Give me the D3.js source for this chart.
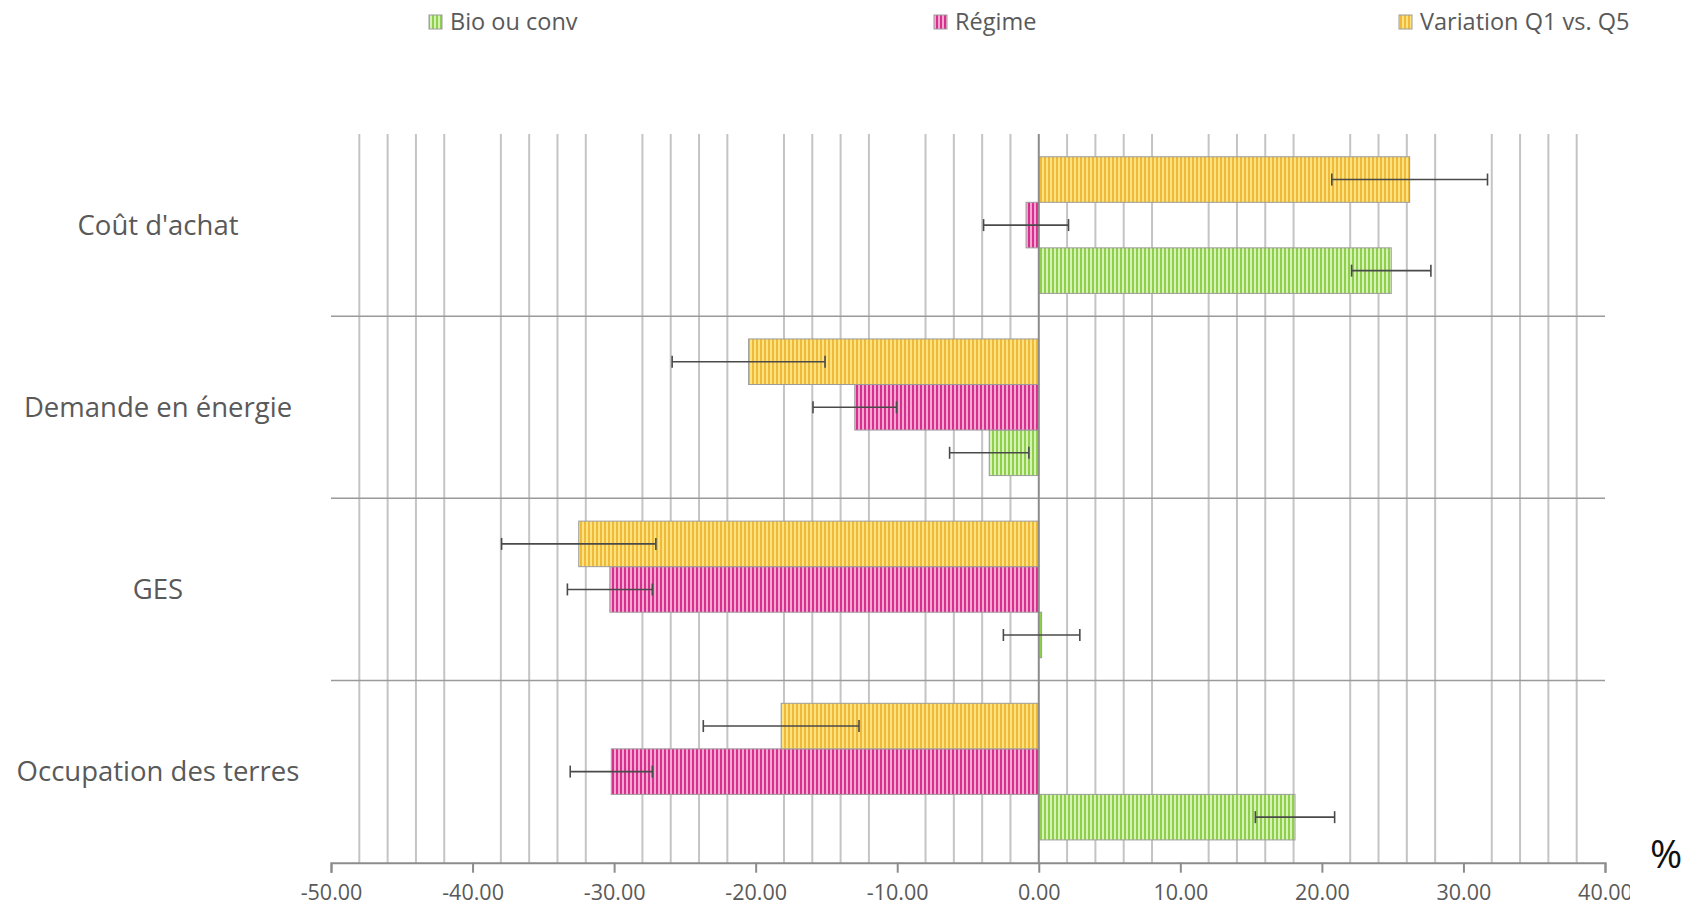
<!DOCTYPE html>
<html>
<head>
<meta charset="utf-8">
<script src="https://cdn.jsdelivr.net/npm/d3@7"></script>
<style>
  html, body { margin: 0; padding: 0; background: #ffffff; }
  svg { display: block; }
</style>
</head>
<body>
<script>
// Impact categories, top to bottom
const categories = ["Coût d'achat", "Demande en énergie", "GES", "Occupation des terres"];

// Series names (legend order)
const seriesNames = ["Bio ou conv", "Régime", "Variation Q1 vs. Q5"];

// Relative change (%) and error half-widths for each series
const bioValues = [24.9, -3.5, 0.2, 18.1];
const bioErrors = [2.8, 2.8, 2.7, 2.8];
const regimeValues = [-0.9, -13.0, -30.3, -30.2];
const regimeErrors = [3.0, 2.95, 3.0, 2.9];
const variationValues = [26.2, -20.5, -32.5, -18.2];
const variationErrors = [5.5, 5.4, 5.45, 5.5];

// Value axis
const xTicks = [-50, -40, -30, -20, -10, 0, 10, 20, 30, 40];
const xMinorStep = 2;

const W = 1691, H = 906;
const plotLeft = 331, plotRight = 1605, plotTop = 134, plotBottom = 862.7;

const svg = d3.select("body").append("svg").attr("width", W).attr("height", H);

const series = [
  { name: seriesNames[0], values: bioValues, errors: bioErrors, light: "#d6f3b6", dark: "#8fcf4c", id: "pBio" },
  { name: seriesNames[1], values: regimeValues, errors: regimeErrors, light: "#f7a6d3", dark: "#d72f8d", id: "pReg" },
  { name: seriesNames[2], values: variationValues, errors: variationErrors, light: "#fde27e", dark: "#efb93a", id: "pVar" }
];

// Vertical stripe patterns for the bar fills
const defs = svg.append("defs");
series.forEach(s => {
  const p = defs.append("pattern").attr("id", s.id)
    .attr("patternUnits", "userSpaceOnUse").attr("width", 4).attr("height", 4);
  p.append("rect").attr("width", 4).attr("height", 4).attr("fill", s.light);
  p.append("rect").attr("width", 2).attr("height", 4).attr("fill", s.dark);
});
// The chart area ends just past the last tick, cutting its label
defs.append("clipPath").attr("id", "chartClip")
  .append("rect").attr("x", 0).attr("y", 0).attr("width", 1630).attr("height", H);

const x = d3.scaleLinear().domain([-50, 40]).range([plotLeft, plotRight]);
const y = d3.scaleBand().domain(categories).range([plotTop, plotBottom]).paddingInner(0).paddingOuter(0);
// Bars inside a category: top = Variation, then Régime, then Bio
const drawOrder = [seriesNames[2], seriesNames[1], seriesNames[0]];
const ySub = d3.scaleBand().domain(drawOrder).range([0, y.bandwidth()]).paddingInner(0).paddingOuter(0.5);

const font = "'Open Sans', 'Noto Sans', sans-serif";
const textColor = "#595959";

// Minor vertical gridlines, skipped where a major tick sits
const minor = [];
for (let v = xTicks[0] + xMinorStep; v < xTicks[xTicks.length - 1]; v += xMinorStep) {
  if (!xTicks.includes(v)) minor.push(v);
}
svg.append("g").selectAll("line").data(minor).join("line")
  .attr("x1", d => x(d)).attr("x2", d => x(d))
  .attr("y1", plotTop).attr("y2", plotBottom)
  .attr("stroke", "#c4c4c4").attr("stroke-width", 2);

// Horizontal category separators
svg.append("g").selectAll("line").data(categories.slice(1)).join("line")
  .attr("x1", plotLeft).attr("x2", plotRight)
  .attr("y1", d => y(d)).attr("y2", d => y(d))
  .attr("stroke", "#9a9a9a").attr("stroke-width", 1.5);

// Bars
const barG = svg.append("g");
series.forEach(s => {
  barG.append("g").selectAll("rect").data(categories).join("rect")
    .attr("x", (d, i) => x(Math.min(0, s.values[i])))
    .attr("width", (d, i) => Math.abs(x(s.values[i]) - x(0)))
    .attr("y", d => y(d) + ySub(s.name))
    .attr("height", ySub.bandwidth())
    .attr("fill", `url(#${s.id})`)
    .attr("stroke", "#9c9c9c").attr("stroke-width", 1);
});

// Zero line
svg.append("line")
  .attr("x1", x(0)).attr("x2", x(0)).attr("y1", plotTop).attr("y2", plotBottom)
  .attr("stroke", "#8c8c8c").attr("stroke-width", 2);

// Error bars
const errG = svg.append("g").attr("stroke", "#4a4a4a").attr("stroke-width", 1.6);
series.forEach(s => {
  categories.forEach((c, i) => {
    const cy = y(c) + ySub(s.name) + ySub.bandwidth() / 2;
    const x0 = x(s.values[i] - s.errors[i]), x1 = x(s.values[i] + s.errors[i]);
    errG.append("line").attr("x1", x0).attr("x2", x1).attr("y1", cy).attr("y2", cy);
    errG.append("line").attr("x1", x0).attr("x2", x0).attr("y1", cy - 6).attr("y2", cy + 6);
    errG.append("line").attr("x1", x1).attr("x2", x1).attr("y1", cy - 6).attr("y2", cy + 6);
  });
});

// Value axis
const axis = d3.axisBottom(x).tickValues(xTicks).tickSize(10).tickSizeOuter(10)
  .tickFormat(d => d.toFixed(2));
const axWrap = svg.append("g").attr("clip-path", "url(#chartClip)");
const axG = axWrap.append("g").attr("transform", `translate(0,${plotBottom})`).call(axis);
axG.select(".domain").attr("stroke", "#8c8c8c").attr("stroke-width", 2);
axG.selectAll(".tick line").attr("stroke", "#8c8c8c").attr("stroke-width", 2);
axG.selectAll(".tick text")
  .attr("fill", textColor).attr("font-family", font).attr("font-size", 21.5)
  .attr("y", 22);

// Unit label
svg.append("text").attr("x", 1666).attr("y", 868).attr("text-anchor", "middle")
  .attr("font-family", font).attr("font-size", 39).attr("fill", "#111").text("%");

// Category labels
svg.append("g").selectAll("text").data(categories).join("text")
  .attr("x", 158).attr("y", d => y(d) + y.bandwidth() / 2)
  .attr("dy", "0.35em").attr("text-anchor", "middle")
  .attr("font-family", font).attr("font-size", 27.5).attr("fill", textColor)
  .text(d => d);

// Legend
const legendX = [429, 934, 1399];
const lg = svg.append("g");
series.forEach((s, i) => {
  lg.append("rect").attr("x", legendX[i]).attr("y", 15).attr("width", 13).attr("height", 14)
    .attr("fill", `url(#${s.id})`).attr("stroke", "#9c9c9c").attr("stroke-width", 1);
  lg.append("text").attr("x", legendX[i] + 21).attr("y", 22).attr("dy", "0.35em")
    .attr("font-family", font).attr("font-size", 23.5).attr("fill", textColor).text(s.name);
});
</script>
</body>
</html>
